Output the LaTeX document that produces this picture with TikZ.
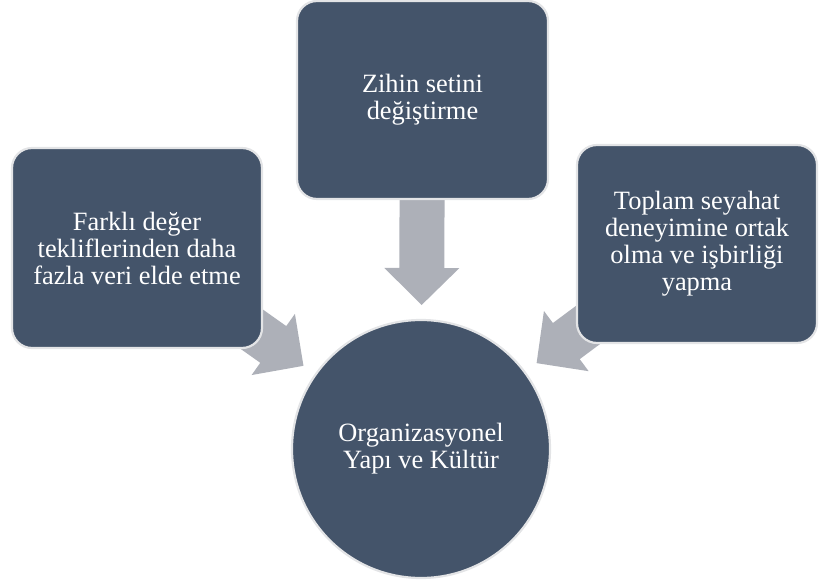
\documentclass[tikz,border=0pt]{standalone}
\usepackage{fontspec}
\setmainfont{Liberation Serif}
\usetikzlibrary{calc,backgrounds}
\definecolor{slate}{HTML}{44546A}
\definecolor{rim}{HTML}{E3E4E6}
\definecolor{flow}{HTML}{ADB0B8}
\tikzset{
  labeltext/.style={text=white, align=center, font=\fontsize{26.4}{27}\selectfont},
  card/.style={rectangle, rounded corners=20pt, fill=slate, draw=rim, line width=2.2pt, labeltext, inner sep=0pt},
  hub/.style={circle, fill=slate, draw=rim, line width=2.2pt, labeltext, inner sep=0pt, minimum size=258pt},
  flowarrow/.style={fill=flow},
}
% Block arrow from the centre of node #1 towards node #2; its tip stops short of #2's border.
\newcommand\blockarrow[2]{%
  \coordinate (tip-#1) at ($(#2)!144pt!(#1)$);
  \coordinate (neck-#1) at ($(#2)!181pt!(#1)$);
  \fill[flowarrow]
    ($(#1)!22.5pt!-90:(#2)$) -- ($(neck-#1)!22.5pt!90:(#1)$)
    -- ($(neck-#1)!37.5pt!90:(#1)$) -- (tip-#1)
    -- ($(neck-#1)!37.5pt!-90:(#1)$) -- ($(neck-#1)!22.5pt!-90:(#1)$)
    -- ($(#1)!22.5pt!90:(#2)$) -- cycle;
}
\begin{document}
\begin{tikzpicture}[x=1pt, y=-1pt]
  \useasboundingbox (0,0) rectangle (819,585);

  \node[hub] (core) at (421,449) {Organizasyonel\\Yapı ve Kültür};
  \node[card, minimum width=250pt, minimum height=200pt] (left) at (137,248)
    {Farklı değer\\tekliflerinden daha\\fazla veri elde etme};
  \node[card, minimum width=251pt, minimum height=198pt] (top) at (422.5,100)
    {Zihin setini\\değiştirme};
  \node[card, minimum width=240pt, minimum height=198pt] (right) at (697,244)
    {Toplam seyahat\\deneyimine ortak\\olma ve işbirliği\\yapma};

  \begin{scope}[on background layer]
    \blockarrow{left}{core}
    \blockarrow{top}{core}
    \blockarrow{right}{core}
  \end{scope}
\end{tikzpicture}
\end{document}
